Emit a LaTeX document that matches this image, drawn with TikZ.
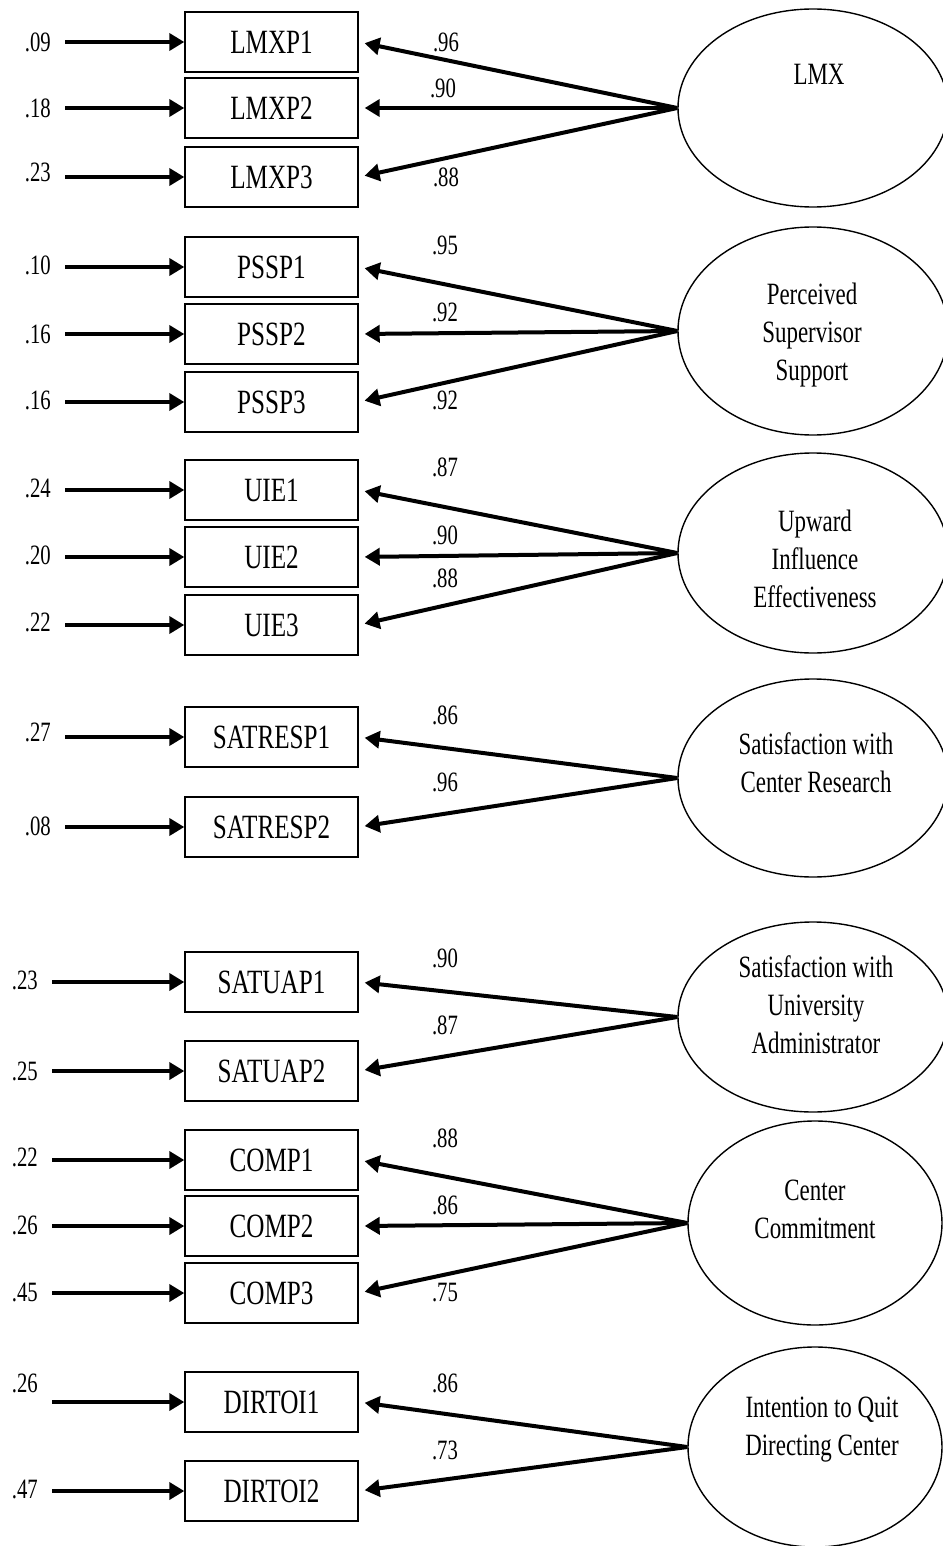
\documentclass[tikz,border=0pt]{standalone}
\usepackage{fontspec}
\setmainfont[FakeStretch=0.74]{Liberation Serif}
\usetikzlibrary{arrows.meta,shapes.geometric}

\tikzset{
    indicator/.style={draw, line width=1.4pt, minimum width=173pt, minimum height=60pt,
        inner sep=0pt, font=\fontsize{34}{38}\selectfont},
    latent/.style={draw, ellipse, line width=1.4pt, inner sep=0pt},
    latentname/.style={align=center, inner sep=0pt, font=\fontsize{31}{38}\selectfont},
    coef/.style={inner sep=0pt, font=\fontsize{28}{30}\selectfont},
    loading/.style={line width=4pt, shorten >=6pt, -{Triangle[length=15pt, width=17pt]}},
    resid/.style={line width=4pt, -{Triangle[length=15pt, width=17pt]}}
}

\begin{document}
\begin{tikzpicture}[x=1pt, y=-1pt]

    \useasboundingbox (0,0) rectangle (942,1546);

    % Observed indicators
    \foreach \ind/\txt/\y in {lmxp1/LMXP1/42, lmxp2/LMXP2/108, lmxp3/LMXP3/177,
            pssp1/PSSP1/267, pssp2/PSSP2/334, pssp3/PSSP3/402,
            uie1/UIE1/490, uie2/UIE2/557, uie3/UIE3/625,
            satresp1/SATRESP1/737, satresp2/SATRESP2/827,
            satuap1/SATUAP1/982, satuap2/SATUAP2/1071,
            comp1/COMP1/1160, comp2/COMP2/1226, comp3/COMP3/1293,
            dirtoi1/DIRTOI1/1402, dirtoi2/DIRTOI2/1491}
        \node[indicator] (\ind) at (271.5,\y) {\txt};

    % Latent constructs
    \node[latent, minimum width=270pt, minimum height=198pt] (lmx) at (813,108) {};
    \node[latentname] (lmxname) at (819,74) {LMX};

    \node[latent, minimum width=270pt, minimum height=208pt] (pss) at (813,331) {};
    \node[latentname] (pssname) at (812,335) {Perceived\\Supervisor\\Support};

    \node[latent, minimum width=270pt, minimum height=200pt] (uie) at (813,553) {};
    \node[latentname] (uiename) at (815,559) {Upward\\Influence\\Effectiveness};

    \node[latent, minimum width=270pt, minimum height=198pt] (sres) at (813,778) {};
    \node[latentname] (sresname) at (816,763) {Satisfaction with\\Center Research};

    \node[latent, minimum width=270pt, minimum height=190pt] (suap) at (813,1017) {};
    \node[latentname] (suapname) at (816,1005) {Satisfaction with\\University\\Administrator};

    \node[latent, minimum width=254pt, minimum height=204pt] (ccom) at (815,1223) {};
    \node[latentname] (ccomname) at (815,1209) {Center\\Commitment};

    \node[latent, minimum width=254pt, minimum height=200pt] (itq) at (815,1447) {};
    \node[latentname] (itqname) at (822,1430) {Intention to Quit\\Directing Center};

    % Loadings
    \foreach \ind/\lat/\val/\lx/\ly in {lmxp1/lmx/.96/446/42, lmxp2/lmx/.90/443/88,
            lmxp3/lmx/.88/446/177,
            pssp1/pss/.95/445/245, pssp2/pss/.92/445/312, pssp3/pss/.92/445/400,
            uie1/uie/.87/445/467, uie2/uie/.90/445/535, uie3/uie/.88/445/578,
            satresp1/sres/.86/445/715, satresp2/sres/.96/445/782,
            satuap1/suap/.90/445/958, satuap2/suap/.87/445/1025,
            comp1/ccom/.88/445/1138, comp2/ccom/.86/445/1205, comp3/ccom/.75/445/1293,
            dirtoi1/itq/.86/445/1383, dirtoi2/itq/.73/445/1450}
    {
        \draw[loading] (\lat.west) -- (\ind.east);
        \node[coef] (l\ind) at (\lx,\ly) {\val};
    }

    % Error terms
    \foreach \ind/\val/\sx/\ly in {lmxp1/.09/65/42, lmxp2/.18/65/108, lmxp3/.23/65/172,
            pssp1/.10/65/265, pssp2/.16/65/334, pssp3/.16/65/400,
            uie1/.24/65/488, uie2/.20/65/555, uie3/.22/65/622,
            satresp1/.27/65/732, satresp2/.08/65/826,
            satuap1/.23/52/980, satuap2/.25/52/1071,
            comp1/.22/52/1157, comp2/.26/52/1225, comp3/.45/52/1292,
            dirtoi1/.26/52/1383, dirtoi2/.47/52/1489}
    {
        \coordinate (s\ind) at (\sx,0 |- \ind.west);
        \node[coef, anchor=east] (e\ind) at (\sx-14,\ly) {\val};
        \draw[resid] (s\ind) -- (\ind.west);
    }

\end{tikzpicture}
\end{document}
